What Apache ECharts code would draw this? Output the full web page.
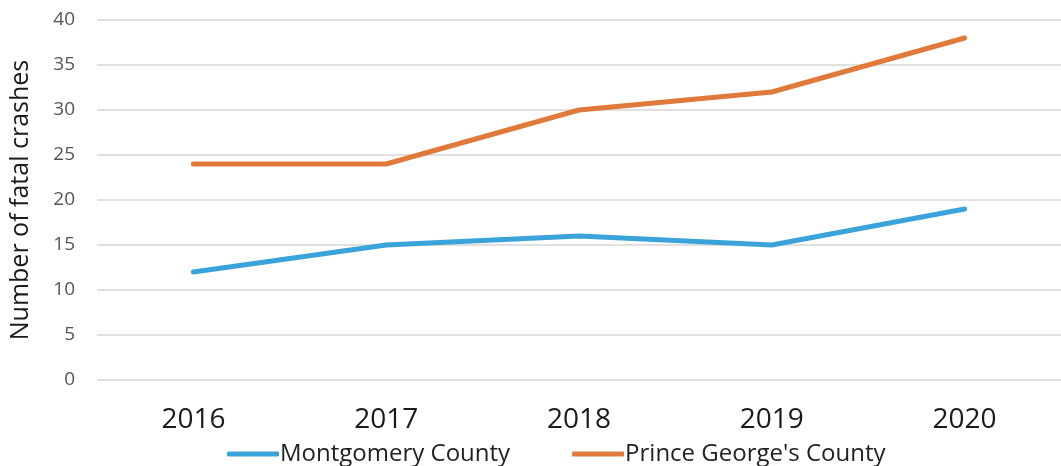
<!DOCTYPE html>
<html>
<head>
<meta charset="utf-8">
<style>
  html, body { margin: 0; padding: 0; background: #fff; }
  #chart { width: 1061px; height: 466px; }
</style>
<script src="https://cdn.jsdelivr.net/npm/echarts@6/dist/echarts.min.js"></script>
</head>
<body>
<div id="chart"></div>
<script>
// Fatal crashes per year, by county
const years = ['2016', '2017', '2018', '2019', '2020'];
const montgomery = [12, 15, 16, 15, 19];
const princeGeorges = [24, 24, 30, 32, 38];
const yTicks = { min: 0, max: 40, interval: 5 };

const FONT = '"Open Sans", "Noto Sans", sans-serif';

const chart = echarts.init(document.getElementById('chart'), null, { renderer: 'canvas' });
chart.setOption({
  backgroundColor: '#ffffff',
  animation: false,
  grid: { left: 94, right: -12, top: 20, bottom: 86, containLabel: false },
  legend: {
    left: 222,
    top: 437,
    itemWidth: 52,
    itemHeight: 5,
    itemGap: 62,
    icon: 'roundRect',
    textStyle: { fontFamily: FONT, fontSize: 24, color: '#222', padding: [0, 0, 0, -4] },
    data: ['Montgomery County', "Prince George's County"]
  },
  xAxis: {
    type: 'category',
    data: years,
    boundaryGap: true,
    axisLine: { show: false },
    axisTick: { show: false },
    axisLabel: { fontFamily: FONT, fontSize: 28, color: '#1a1a1a', margin: 26 }
  },
  yAxis: {
    type: 'value',
    min: yTicks.min,
    max: yTicks.max,
    interval: yTicks.interval,
    name: 'Number of fatal crashes',
    nameLocation: 'middle',
    nameGap: 64,
    nameTextStyle: { fontFamily: FONT, fontSize: 25, color: '#1a1a1a' },
    axisLine: { show: false },
    axisTick: { show: false },
    splitLine: { lineStyle: { color: '#d6d6d6', width: 1.5 } },
    axisLabel: { fontFamily: FONT, fontSize: 19, color: '#555', margin: 22 }
  },
  series: [
    {
      name: 'Montgomery County',
      type: 'line',
      data: montgomery,
      symbol: 'none',
      color: '#3aa3da',
      lineStyle: { width: 5, cap: 'round', join: 'round' }
    },
    {
      name: "Prince George's County",
      type: 'line',
      data: princeGeorges,
      symbol: 'none',
      color: '#e07a3a',
      lineStyle: { width: 5, cap: 'round', join: 'round' }
    }
  ]
});
</script>
</body>
</html>
